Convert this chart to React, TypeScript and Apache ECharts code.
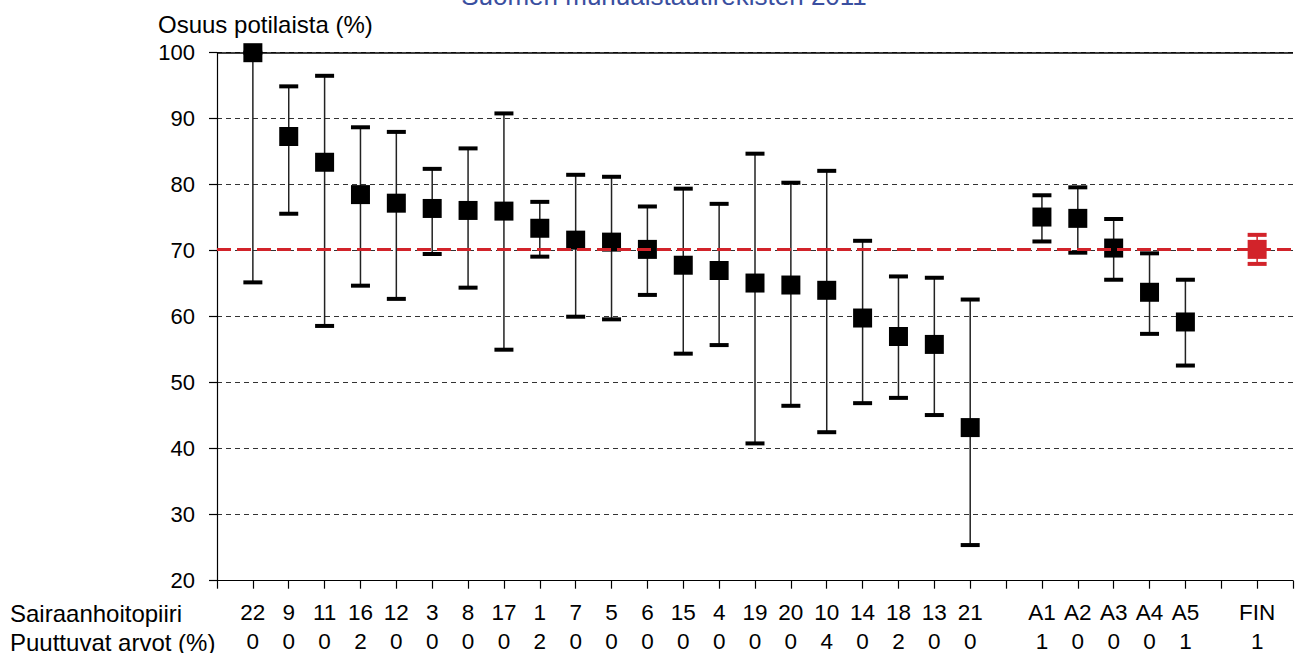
import React, { useEffect, useRef } from "react";
import * as echarts from "echarts";

// Sairaanhoitopiirit (districts), erva-alueet (A1–A5) and whole Finland
const labels = [
  "22", "9", "11", "16", "12", "3", "8", "17", "1", "7", "5", "6", "15", "4",
  "19", "20", "10", "14", "18", "13", "21",
  "A1", "A2", "A3", "A4", "A5",
  "FIN",
];
// Osuus potilaista (%)
const share = [
  100, 87.3, 83.4, 78.5, 77.2, 76.4, 76.1, 76.0, 73.4, 71.6, 71.3, 70.2, 67.8, 67.0,
  65.1, 64.8, 64.0, 59.8, 57.0, 55.8, 43.2,
  75.1, 74.9, 70.4, 63.7, 59.2,
  70.2,
];
// Confidence interval lower / upper (%)
const lower = [
  65.2, 75.6, 58.6, 64.7, 62.7, 69.5, 64.4, 55.0, 69.1, 60.0, 59.6, 63.3, 54.4, 55.7,
  40.8, 46.5, 42.5, 46.9, 47.7, 45.1, 25.4,
  71.4, 69.7, 65.6, 57.4, 52.6,
  68.0,
];
const upper = [
  100, 94.9, 96.5, 88.7, 88.0, 82.4, 85.5, 90.8, 77.4, 81.5, 81.2, 76.7, 79.4, 77.1,
  84.7, 80.3, 82.1, 71.5, 66.1, 65.9, 62.6,
  78.4, 79.6, 74.8, 69.6, 65.6,
  72.4,
];
// Puuttuvat arvot (%)
const missing = [
  0, 0, 0, 2, 0, 0, 0, 0, 2, 0, 0, 0, 0, 0,
  0, 0, 4, 0, 2, 0, 0,
  1, 0, 0, 0, 1,
  1,
];
const yTicks = [20, 30, 40, 50, 60, 70, 80, 90, 100];

const DISTRICTS = 21;
const AREAS = 5;
const FIN_INDEX = labels.length - 1;
const RED = "#D2232A";
const FONT = "'Liberation Sans', Arial, Helvetica, sans-serif";

// slot on the x axis: one empty slot between groups
const slotOf = (i: number) => (i < DISTRICTS ? i + 1 : i < DISTRICTS + AREAS ? i + 2 : i + 3);
const slots = labels.map((_, i) => slotOf(i));

export default function App() {
  const ref = useRef<HTMLDivElement>(null);

  useEffect(() => {
    document.body.style.margin = "0";
    const chart = echarts.init(ref.current!, null, { renderer: "svg" });

    const option: any = {
      animation: false,
      backgroundColor: "#fff",
      textStyle: { fontFamily: FONT },
      grid: { left: 217, top: 52.7, width: 30 * 36.1, height: 528 },
      xAxis: {
        type: "value",
        min: 0,
        max: 30,
        interval: 1,
        splitLine: { show: false },
        axisLine: { show: true, lineStyle: { color: "#000", width: 1.2 } },
        axisTick: { show: true, length: 8, lineStyle: { color: "#000", width: 1.2 } },
        axisLabel: {
          show: true,
          margin: 17,
          showMinLabel: true,
          showMaxLabel: true,
          formatter: (v: number) => {
            const i = slots.indexOf(v);
            return i < 0 ? "" : `{a|${labels[i]}}\n{b|${missing[i]}}`;
          },
          rich: {
            a: { fontSize: 22.5, lineHeight: 29, color: "#000", fontFamily: FONT },
            b: { fontSize: 22.5, lineHeight: 29, color: "#000", fontFamily: FONT },
          },
        },
      },
      yAxis: {
        type: "value",
        min: yTicks[0],
        max: yTicks[yTicks.length - 1],
        interval: 10,
        axisLine: { show: true, lineStyle: { color: "#000", width: 1.2 } },
        axisTick: { show: true, length: 8, lineStyle: { color: "#000", width: 1.2 } },
        axisLabel: { fontSize: 22, color: "#000", margin: 22, fontFamily: FONT },
        splitLine: { show: true, lineStyle: { color: "#333", width: 1, type: [5, 4] } },
      },
      graphic: [
        {
          type: "text",
          x: 664,
          y: -4.5,
          style: {
            text: "Suomen munuaistautirekisteri 2011",
            fill: "#3A4FA0",
            font: `26px ${FONT}`,
            align: "center",
            verticalAlign: "middle",
          },
        },
        {
          type: "text",
          x: 158,
          y: 24.5,
          style: {
            text: "Osuus potilaista (%)",
            fill: "#000",
            font: `24px ${FONT}`,
            verticalAlign: "middle",
          },
        },
        {
          type: "text",
          x: 10,
          y: 613.5,
          style: { text: "Sairaanhoitopiiri", fill: "#000", font: `24px ${FONT}`, verticalAlign: "middle" },
        },
        {
          type: "text",
          x: 10,
          y: 642.5,
          style: { text: "Puuttuvat arvot (%)", fill: "#000", font: `24px ${FONT}`, verticalAlign: "middle" },
        },
      ],
      series: [
        {
          type: "custom",
          z: 2,
          clip: false,
          encode: { x: 0, y: [1, 2] },
          data: labels.map((_, i) => [slots[i], lower[i], upper[i], i === FIN_INDEX ? 1 : 0]),
          renderItem: (params: any, api: any) => {
            const x = api.value(0);
            const p1 = api.coord([x, api.value(1)]);
            const p2 = api.coord([x, api.value(2)]);
            const isFin = api.value(3) === 1;
            const fill = isFin ? RED : "#000";
            return {
              type: "group",
              children: [
                {
                  type: "line",
                  shape: { x1: p1[0], y1: p1[1], x2: p2[0], y2: p2[1] },
                  style: { stroke: isFin ? RED : "#222", lineWidth: 1.5 },
                },
                { type: "rect", shape: { x: p1[0] - 9.5, y: p1[1] - 2, width: 19, height: 4 }, style: { fill } },
                { type: "rect", shape: { x: p2[0] - 9.5, y: p2[1] - 2, width: 19, height: 4 }, style: { fill } },
              ],
            };
          },
        },
        {
          type: "scatter",
          z: 3,
          clip: false,
          symbol: "rect",
          symbolSize: 19,
          itemStyle: { opacity: 1 },
          data: labels.map((_, i) => ({
            value: [slots[i], share[i]],
            itemStyle: { color: i === FIN_INDEX ? RED : "#000", opacity: 1 },
          })),
          markLine: {
            silent: true,
            symbol: "none",
            label: { show: false },
            z: 5,
            data: [
              { yAxis: yTicks[yTicks.length - 1], lineStyle: { color: "#000", width: 1.5, type: "solid" } },
              { yAxis: share[FIN_INDEX], lineStyle: { color: RED, width: 3, type: [14, 6] } },
            ],
          },
        },
      ],
    };

    chart.setOption(option);
    return () => chart.dispose();
  }, []);

  return <div ref={ref} style={{ width: 1296, height: 653 }} />;
}
